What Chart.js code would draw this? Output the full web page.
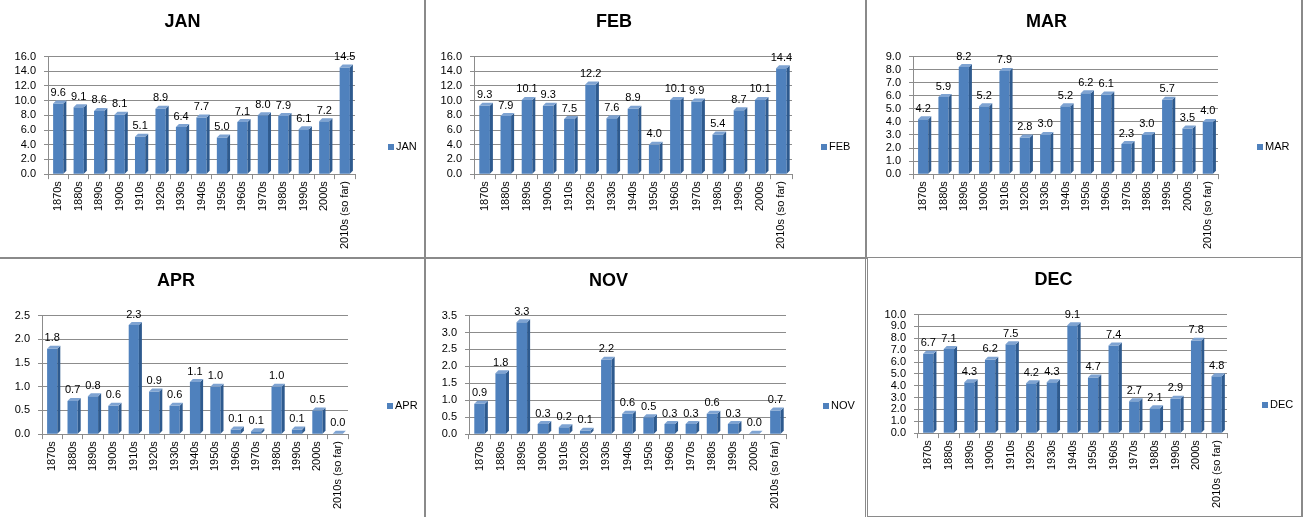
<!DOCTYPE html>
<html>
<head>
<meta charset="utf-8">
<script src="https://cdn.jsdelivr.net/npm/chart.js@4.4.1/dist/chart.umd.min.js"></script>
<style>
    html, body { margin: 0; padding: 0; background: #fff; }
    body { width: 1303px; height: 517px; position: relative; overflow: hidden; }
    .panel { position: absolute; box-sizing: border-box; border: 0 solid #8a8a8a; background: #fff; }
    .panel canvas { display: block; }
</style>
</head>
<body>
<div class="panel" style="left:0;top:0;width:426px;height:259px;border-right-width:2px;border-bottom-width:2px;"><canvas id="c-jan" width="424" height="257"></canvas></div>
<div class="panel" style="left:426px;top:0;width:441px;height:259px;border-right-width:2px;border-bottom-width:2px;"><canvas id="c-feb" width="439" height="257"></canvas></div>
<div class="panel" style="left:867px;top:0;width:436px;height:258px;border-right-width:2px;border-bottom-width:1px;"><canvas id="c-mar" width="434" height="257"></canvas></div>
<div class="panel" style="left:0;top:259px;width:426px;height:258px;border-right-width:2px;"><canvas id="c-apr" width="424" height="258"></canvas></div>
<div class="panel" style="left:426px;top:259px;width:440px;height:258px;border-right-width:1px;"><canvas id="c-nov" width="439" height="258"></canvas></div>
<div class="panel" style="left:867px;top:258px;width:436px;height:259px;border-left-width:1px;border-right-width:2px;border-bottom-width:1px;"><canvas id="c-dec" width="433" height="258"></canvas></div>

<script>
// ----------------- Data -----------------
const decades = ['1870s', '1880s', '1890s', '1900s', '1910s', '1920s', '1930s', '1940s',
    '1950s', '1960s', '1970s', '1980s', '1990s', '2000s', '2010s (so far)'];

const janValues = [9.6, 9.1, 8.6, 8.1, 5.1, 8.9, 6.4, 7.7, 5.0, 7.1, 8.0, 7.9, 6.1, 7.2, 14.5];
const febValues = [9.3, 7.9, 10.1, 9.3, 7.5, 12.2, 7.6, 8.9, 4.0, 10.1, 9.9, 5.4, 8.7, 10.1, 14.4];
const marValues = [4.2, 5.9, 8.2, 5.2, 7.9, 2.8, 3.0, 5.2, 6.2, 6.1, 2.3, 3.0, 5.7, 3.5, 4.0];
const aprValues = [1.8, 0.7, 0.8, 0.6, 2.3, 0.9, 0.6, 1.1, 1.0, 0.1, 0.06, 1.0, 0.1, 0.5, 0.01];
const novValues = [0.9, 1.8, 3.3, 0.3, 0.2, 0.1, 2.2, 0.6, 0.5, 0.3, 0.3, 0.6, 0.3, 0.01, 0.7];
const decValues = [6.7, 7.1, 4.3, 6.2, 7.5, 4.2, 4.3, 9.1, 4.7, 7.4, 2.7, 2.1, 2.9, 7.8, 4.8];

const months = ['JAN', 'FEB', 'MAR', 'APR', 'NOV', 'DEC'];
const axisMax = [16, 16, 9, 2.5, 3.5, 10];
const axisStep = [2, 2, 1, 0.5, 0.5, 1];

// ----------------- Look -----------------
const FONT = '"Liberation Sans", Arial, sans-serif';
const BAR_FRONT = '#4F81BD';
const BAR_SIDE = '#2E5A8E';
const BAR_TOP = '#7EA3D2';
const GRID = '#8c8c8c';
const DEPTH = 3;
const Y_AXIS_W = 38;

// per panel: left / right padding, legend offset from plot edge
const panelLayout = [
    { id: 'c-jan', left: 10, right: 69, legendGap: 33 },
    { id: 'c-feb', left: 10, right: 73, legendGap: 29 },
    { id: 'c-mar', left: 8, right: 83, legendGap: 39 },
    { id: 'c-apr', left: 4, right: 76, legendGap: 39 },
    { id: 'c-nov', left: 5, right: 79, legendGap: 37 },
    { id: 'c-dec', left: 12, right: 74, legendGap: 35 }
];

// 3D-ish bar faces + value labels above each bar
const barDecor = {
    id: 'barDecor',
    afterDatasetsDraw(chart) {
        const ctx = chart.ctx;
        const meta = chart.getDatasetMeta(0);
        const values = chart.data.datasets[0].data;
        ctx.save();
        meta.data.forEach(bar => {
            const r = bar.x + bar.width / 2;
            const l = bar.x - bar.width / 2;
            ctx.fillStyle = BAR_SIDE;
            ctx.beginPath();
            ctx.moveTo(r, bar.y);
            ctx.lineTo(r + DEPTH, bar.y - DEPTH);
            ctx.lineTo(r + DEPTH, bar.base - DEPTH);
            ctx.lineTo(r, bar.base);
            ctx.closePath();
            ctx.fill();
            ctx.fillStyle = BAR_TOP;
            ctx.beginPath();
            ctx.moveTo(l, bar.y);
            ctx.lineTo(l + DEPTH, bar.y - DEPTH);
            ctx.lineTo(r + DEPTH, bar.y - DEPTH);
            ctx.lineTo(r, bar.y);
            ctx.closePath();
            ctx.fill();
        });
        ctx.font = '11px ' + FONT;
        ctx.fillStyle = '#000';
        ctx.textAlign = 'center';
        ctx.textBaseline = 'bottom';
        meta.data.forEach((bar, i) => {
            ctx.fillText(values[i].toFixed(1), bar.x, bar.y - DEPTH - 2);
        });
        ctx.restore();
    }
};

// Excel style legend: small square + series name, right of the plot
const sideLegend = {
    id: 'sideLegend',
    afterDraw(chart, args, opts) {
        const ctx = chart.ctx;
        const ds = chart.data.datasets[0];
        const x = chart.chartArea.right + opts.gap;
        const y = 147;
        ctx.save();
        ctx.fillStyle = ds.backgroundColor;
        ctx.fillRect(x, y - 3, 6, 6);
        ctx.font = '11px ' + FONT;
        ctx.fillStyle = '#000';
        ctx.textAlign = 'left';
        ctx.textBaseline = 'middle';
        ctx.fillText(ds.label, x + 8, y);
        ctx.restore();
    }
};

function makeChart(idx, values) {
    const lay = panelLayout[idx];
    const ctx = document.getElementById(lay.id);
    return new Chart(ctx.getContext('2d'), {
        type: 'bar',
        data: {
            labels: decades,
            datasets: [{
                label: months[idx],
                data: values,
                backgroundColor: BAR_FRONT,
                barPercentage: 0.5,
                categoryPercentage: 1
            }]
        },
        options: {
            responsive: false,
            animation: false,
            layout: { padding: { left: lay.left, right: lay.right, top: 0, bottom: 6 } },
            plugins: {
                legend: { display: false },
                tooltip: { enabled: false },
                title: {
                    display: true,
                    text: months[idx],
                    color: '#000',
                    font: { family: FONT, size: 18, weight: 'bold' },
                    padding: { top: 11, bottom: 24 }
                },
                sideLegend: { gap: lay.legendGap }
            },
            scales: {
                x: {
                    grid: { display: true, drawOnChartArea: false, color: GRID, tickLength: 5 },
                    border: { color: GRID },
                    ticks: {
                        color: '#000',
                        font: { family: FONT, size: 11 },
                        minRotation: 90,
                        maxRotation: 90,
                        autoSkip: false,
                        padding: 2
                    }
                },
                y: {
                    min: 0,
                    max: axisMax[idx],
                    afterFit: scale => { scale.width = Y_AXIS_W; },
                    grid: { color: GRID, tickLength: 4 },
                    border: { color: GRID },
                    ticks: {
                        stepSize: axisStep[idx],
                        autoSkip: false,
                        color: '#000',
                        font: { family: FONT, size: 11 },
                        padding: 8,
                        callback: v => Number(v).toFixed(1)
                    }
                }
            }
        },
        plugins: [barDecor, sideLegend]
    });
}

document.addEventListener('DOMContentLoaded', () => {
    [janValues, febValues, marValues, aprValues, novValues, decValues]
        .forEach((vals, i) => makeChart(i, vals));
});
</script>
</body>
</html>
